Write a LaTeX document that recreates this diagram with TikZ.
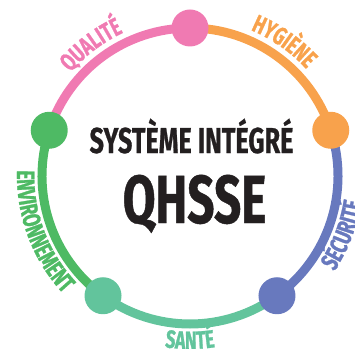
\documentclass[tikz,border=0pt]{standalone}
\usepackage{fontspec}
\usepackage{xcolor}
\usepackage{tikz}
\usetikzlibrary{decorations.text}
\newfontfamily\condfont[FakeStretch=0.7,FakeBold=0.6]{Fira Sans}
\newfontfamily\ringfont[FakeStretch=0.7,FakeBold=1]{Fira Sans}
\newcommand{\labelfont}{\ringfont\bfseries\fontsize{25}{25}\selectfont}
\definecolor{qpink}{RGB}{240,122,178}
\definecolor{qorange}{RGB}{248,162,76}
\definecolor{qblue}{RGB}{104,121,190}
\definecolor{qteal}{RGB}{98,196,156}
\definecolor{qgreen}{RGB}{78,186,100}
\definecolor{qblack}{RGB}{35,31,32}

\begin{document}
\begin{tikzpicture}[x=1pt,y=1pt,
  ring/.style={line width=9pt},
  dot/.style={circle,fill=#1,minimum size=37pt,inner sep=0pt}]
\useasboundingbox (-190,-172) rectangle (165,176);
\def\R{148}
% dot positions
\coordinate (pQ) at (90:\R);
\coordinate (pH) at (18:\R);
\coordinate (pS) at (-54:\R);
\coordinate (pSa) at (-126:\R);
\coordinate (pE) at (162:\R);
% ring arcs
\draw[ring,qorange] (pQ) arc[start angle=90,end angle=18,radius=\R];
\draw[ring,qblue] (pH) arc[start angle=18,end angle=-54,radius=\R];
\draw[ring,qteal] (pS) arc[start angle=-54,end angle=-126,radius=\R];
\draw[ring,qgreen] (pSa) arc[start angle=234,end angle=162,radius=\R];
\draw[ring,qpink] (pE) arc[start angle=162,end angle=90,radius=\R];
% dots
\node[dot=qpink] (qualite) at (pQ) {};
\node[dot=qorange] (hygiene) at (pH) {};
\node[dot=qblue] (securite) at (pS) {};
\node[dot=qteal] (sante) at (pSa) {};
\node[dot=qgreen] (environ) at (pE) {};
% labels on the ring
\path[decorate,decoration={text along path,text align=center,
  text={|\labelfont\color{qpink}|QUALITÉ}}]
  (157:158) arc[start angle=157,end angle=97,radius=158];
\path[decorate,decoration={text along path,text align=center,
  text={|\labelfont\color{qorange}|HYGIÈNE}}]
  (85:158) arc[start angle=85,end angle=25,radius=158];
\path[decorate,decoration={text along path,text align=center,
  text={|\labelfont\color{qblue}|SÉCURITÉ}}]
  (-54:173) arc[start angle=-54,end angle=12,radius=173];
\path[decorate,decoration={text along path,text align=center,
  text={|\labelfont\color{qteal}|SANTÉ}}]
  (-120:173) arc[start angle=-120,end angle=-60,radius=173];
\path[decorate,decoration={text along path,text align=center,
  text={|\labelfont\color{qgreen}|ENVIRONNEMENT}}]
  (160:173) arc[start angle=160,end angle=241,radius=173];
% title
\node[anchor=base,text=qblack,font=\condfont\bfseries\fontsize{36}{36}\selectfont] (titre) at (1.5,23) {SYSTÈME INTÉGRÉ};
\node[anchor=base,text=qblack,font=\condfont\bfseries\fontsize{68}{68}\selectfont] (qhsse) at (4.5,-47) {QHSSE};
\end{tikzpicture}
\end{document}
